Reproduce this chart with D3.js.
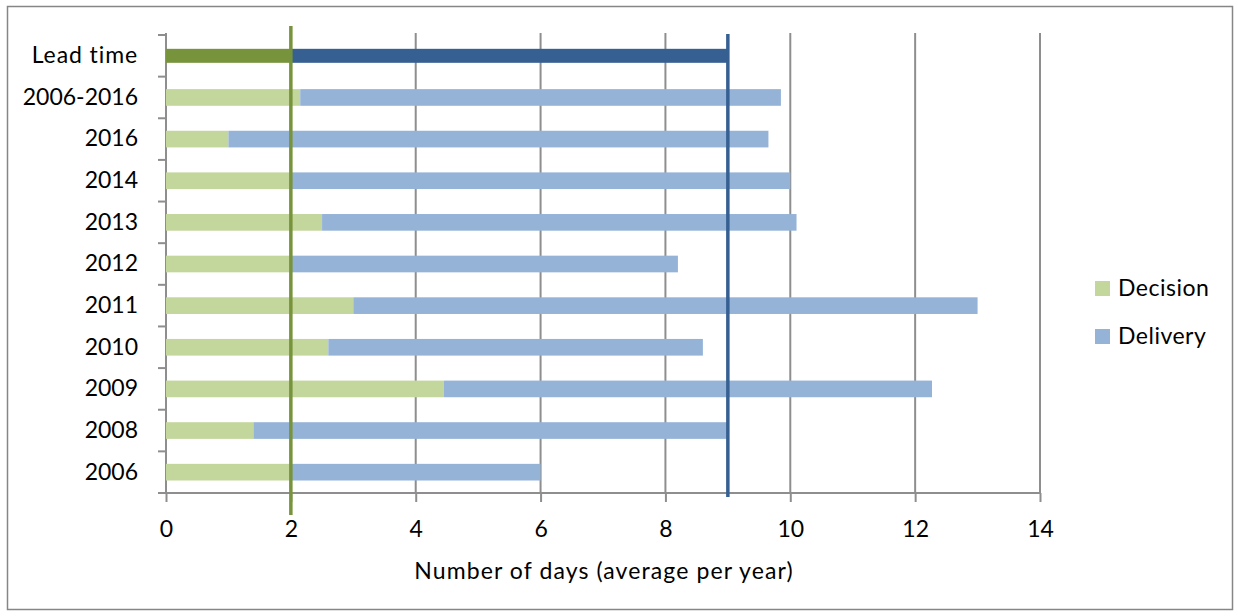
<!DOCTYPE html>
<html><head><meta charset="utf-8">
<script src="https://cdn.jsdelivr.net/npm/d3@7"></script>
<style>
body{margin:0;background:#fff}
text{font-family:Lato, "Open Sans", sans-serif; fill:#000}
</style>
</head><body>
<svg id="chart" width="1238" height="616"></svg>
<script>
// Average number of days per year: decision phase and delivery phase
const categories = ["Lead time","2006-2016","2016","2014","2013","2012","2011","2010","2009","2008","2006"];
const decisionDays = [2, 2.15, 1, 2, 2.5, 2, 3, 2.6, 4.45, 1.4, 2];
const deliveryDays = [7, 7.7, 8.65, 8, 7.6, 6.2, 10, 6, 7.82, 7.6, 4];
const xTickValues = [0, 2, 4, 6, 8, 10, 12, 14];
const seriesNames = ["Decision", "Delivery"];
// Target reference lines (decision target and total lead time target)
const targetDecision = 2;
const targetLead = 9;

const svg = d3.select("#chart");

// outer frame
svg.append("rect").attr("x", 7.5).attr("y", 6.5).attr("width", 1225).attr("height", 603)
  .attr("fill", "#fff").attr("stroke", "#868686").attr("stroke-width", 1.5);

const plot = {left: 166, right: 1040, top: 33, bandTop: 35, bottom: 493};
const x = d3.scaleLinear().domain([0, 14]).range([plot.left, plot.right]);
const yOuter = d3.scaleBand().domain(categories).range([plot.bandTop, plot.bottom]);
const y = d3.scaleBand().domain(categories).range([plot.bandTop, plot.bottom]).paddingInner(0.6).paddingOuter(0.3);

const grid = "#8e8e8e";
// vertical gridlines
svg.append("g").selectAll("line").data(xTickValues.filter(d => d > 0)).join("line")
  .attr("x1", d => x(d)).attr("x2", d => x(d))
  .attr("y1", plot.top).attr("y2", plot.bottom)
  .attr("stroke", grid).attr("stroke-width", 2);

// x axis
const xAxis = svg.append("g").attr("transform", `translate(0,${plot.bottom})`)
  .call(d3.axisBottom(x).tickValues(xTickValues).tickSize(9).tickPadding(19));
xAxis.select(".domain").attr("stroke", grid).attr("stroke-width", 2).attr("d", `M${plot.left},0H${plot.right}`);
xAxis.selectAll(".tick line").attr("stroke", grid).attr("stroke-width", 2);
xAxis.selectAll(".tick text").attr("font-size", 23).style("font-family", "Lato, sans-serif");

// y axis
const yAxis = svg.append("g").attr("transform", `translate(${plot.left},0)`)
  .call(d3.axisLeft(yOuter).tickSize(0).tickPadding(28));
yAxis.select(".domain").remove();
yAxis.selectAll(".tick text").attr("font-size", 23).style("font-family", "Lato, sans-serif")
  .attr("letter-spacing", d => /\d/.test(d) ? 0 : 0.9);
svg.append("line").attr("x1", plot.left).attr("x2", plot.left).attr("y1", plot.top).attr("y2", plot.bottom)
  .attr("stroke", grid).attr("stroke-width", 2);
// category boundary ticks
const boundaries = d3.range(categories.length + 1).map(i => plot.bandTop + i * yOuter.step());
svg.append("g").selectAll("line").data(boundaries).join("line")
  .attr("x1", plot.left - 8).attr("x2", plot.left)
  .attr("y1", d => d).attr("y2", d => d)
  .attr("stroke", grid).attr("stroke-width", 2);

// stacked bars
const rows = categories.map((c, i) => ({cat: c, dec: decisionDays[i], del: deliveryDays[i], lead: i === 0}));
const barH = d => d.lead ? 14 : y.bandwidth();
const barY = d => y(d.cat) + (y.bandwidth() - barH(d)) / 2;

const bars = svg.append("g");
bars.selectAll("rect.dec").data(rows).join("rect").attr("class", "dec")
  .attr("x", x(0)).attr("y", barY)
  .attr("width", d => x(d.dec) - x(0)).attr("height", barH)
  .attr("fill", d => d.lead ? "#77933c" : "#c3d69b");
bars.selectAll("rect.del").data(rows).join("rect").attr("class", "del")
  .attr("x", d => x(d.dec)).attr("y", barY)
  .attr("width", d => x(d.dec + d.del) - x(d.dec)).attr("height", barH)
  .attr("fill", d => d.lead ? "#366092" : "#95b3d7");

// target reference lines
svg.append("line").attr("x1", x(targetLead)).attr("x2", x(targetLead))
  .attr("y1", 34).attr("y2", 497).attr("stroke", "#366092").attr("stroke-width", 3.5);
svg.append("line").attr("x1", x(targetDecision)).attr("x2", x(targetDecision))
  .attr("y1", 26).attr("y2", 515).attr("stroke", "#77933c").attr("stroke-width", 3.5);

// x axis title
svg.append("text").attr("x", 604).attr("y", 579).attr("text-anchor", "middle")
  .attr("font-size", 23).attr("letter-spacing", 1.1).text("Number of days (average per year)");

// legend
const legendColors = ["#c3d69b", "#95b3d7"];
const lg = svg.append("g").selectAll("g").data(seriesNames).join("g")
  .attr("transform", (d, i) => `translate(1095,${281 + i * 48})`);
lg.append("rect").attr("width", 15).attr("height", 15).attr("fill", (d, i) => legendColors[i]);
lg.append("text").attr("x", 23).attr("y", 15).attr("font-size", 23).attr("letter-spacing", 0.5).text(d => d);
</script>
</body></html>
